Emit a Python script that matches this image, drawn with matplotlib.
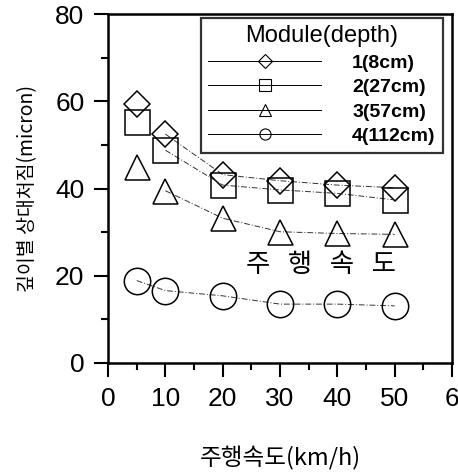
import matplotlib
matplotlib.use('Agg')
import matplotlib.pyplot as plt
from matplotlib.ticker import MultipleLocator

# 주행속도 (km/h)
speed = [5, 10, 20, 30, 40, 50]

# 깊이별 상대처짐 (micron)
mod1 = [59.5, 52.5, 43.2, 41.8, 40.8, 40.2]
mod2 = [55.3, 48.8, 40.8, 39.7, 38.9, 37.4]
mod3 = [45.0, 39.5, 33.2, 30.1, 29.7, 29.5]
mod4 = [18.9, 16.6, 15.4, 13.5, 13.5, 13.1]

labels = ['1(8cm)', '2(27cm)', '3(57cm)', '4(112cm)']
markers = ['D', 's', '^', 'o']
sizes = [16, 18, 18, 19]
series = [mod1, mod2, mod3, mod4]
line_start = [1, 1, 1, 0]

fig = plt.figure(figsize=(4.58, 4.73), dpi=100)
ax = fig.add_axes([0.236, 0.2326, 0.751, 0.7374])

handles = []
for ys, m, ms, st, lab in zip(series, markers, sizes, line_start, labels):
    ax.plot(speed[st:], ys[st:], color='#333333', lw=0.7, ls=(0, (6, 2, 1, 2)))
    mk = ms if m != 'D' else ms * 0.8
    ax.plot(speed, ys, ls='none', marker=m, ms=mk, mfc='none', mec='black', mew=1.1)
    h, = ax.plot([], [], color='black', lw=0.7, marker=m, ms=8 if m != 'D' else 7,
                 mfc='none', mec='black', mew=0.8, label=lab)
    handles.append(h)

ax.text(24.0, 22.5, '주   행   속   도', fontsize=19, va='center', ha='left',
        family=['Noto Sans CJK KR', 'DejaVu Sans'])

ax.set_xlim(0, 60)
ax.set_ylim(0, 80)
ax.xaxis.set_major_locator(MultipleLocator(10))
ax.xaxis.set_minor_locator(MultipleLocator(5))
ax.yaxis.set_major_locator(MultipleLocator(20))
ax.yaxis.set_minor_locator(MultipleLocator(10))
ax.set_xticks([0, 10, 20, 30, 40, 50, 60])
ax.set_xticklabels(['0', '10', '20', '30', '40', '50', '6'])
ax.tick_params(which='major', direction='out', length=10, width=1.5, labelsize=19, pad=7)
ax.tick_params(which='minor', direction='out', length=5, width=1.5)
for lab in ax.get_xticklabels() + ax.get_yticklabels():
    lab.set_family('Liberation Sans')
for sp in ax.spines.values():
    sp.set_linewidth(1.8)

ax.set_ylabel('깊이별 상대처짐(micron)', fontsize=14, family=['Noto Sans CJK KR', 'DejaVu Sans'],
              labelpad=12)
ax.set_xlabel('주행속도(km/h)', fontsize=17, family=['Noto Sans CJK KR', 'DejaVu Sans'],
              labelpad=26)

leg = ax.legend(handles=handles, loc='upper right', bbox_to_anchor=(0.975, 0.99),
                title='Module(depth)', frameon=True, fancybox=False,
                edgecolor='black', handlelength=5.8, handletextpad=1.6,
                borderpad=0.4, labelspacing=0.35, borderaxespad=0.0,
                prop={'family': 'Liberation Sans', 'weight': 'bold', 'size': 14})
leg.get_title().set_fontsize(17)
leg.get_title().set_family('Liberation Sans')
leg.get_frame().set_linewidth(1.6)

fig.savefig('out.png', dpi=100)
